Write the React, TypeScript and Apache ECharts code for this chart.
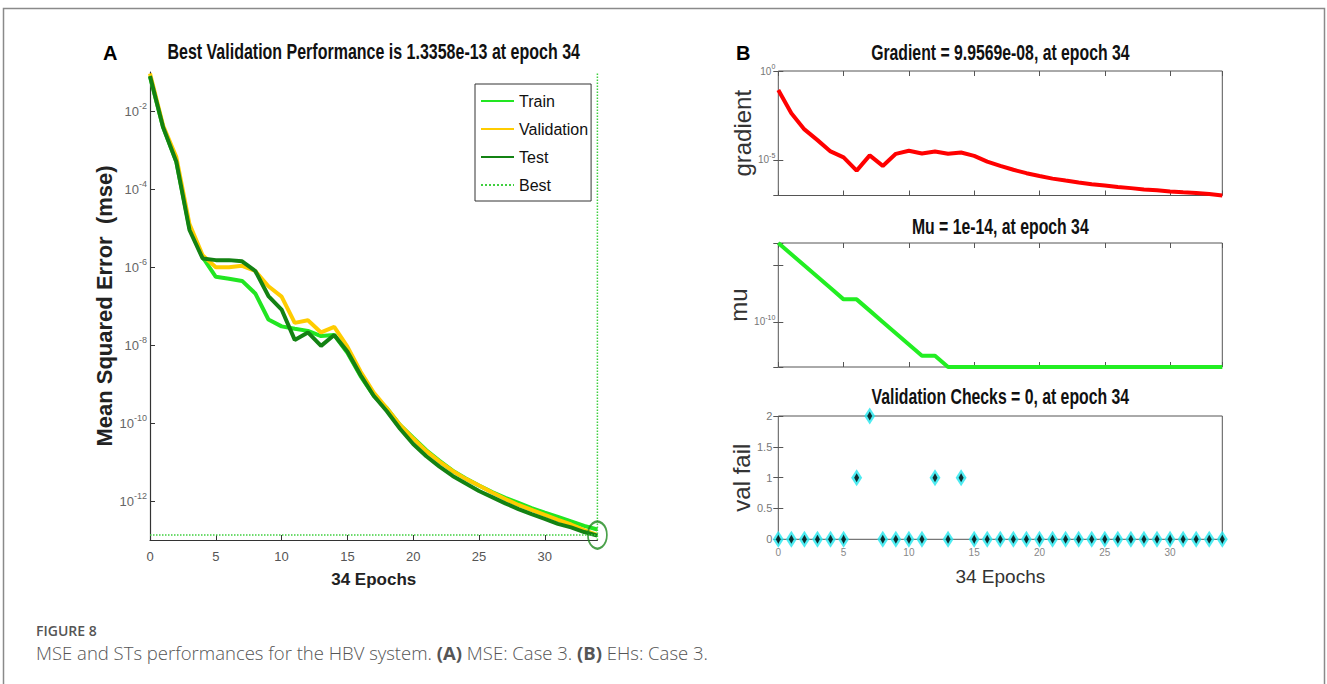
import React, { useEffect, useRef } from 'react';
import * as echarts from 'echarts';

// ---------------- data ----------------
const epochs = [0, 1, 2, 3, 4, 5, 6, 7, 8, 9, 10, 11, 12, 13, 14, 15, 16, 17, 18, 19, 20, 21, 22, 23, 24, 25, 26, 27, 28, 29, 30, 31, 32, 33, 34];

const trainPerf = [7.6e-2, 3.8e-3, 5.0e-4, 1.0e-5, 1.8e-6, 5.6e-7, 5.0e-7, 4.4e-7, 2.1e-7, 4.5e-8, 3.0e-8, 2.6e-8, 2.3e-8, 1.7e-8, 1.8e-8, 6.3e-9, 1.6e-9, 5.0e-10, 2.4e-10, 8.9e-11, 4.2e-11, 2.0e-11, 1.07e-11, 6.0e-12, 3.8e-12, 2.5e-12, 1.7e-12, 1.2e-12, 8.9e-13, 6.6e-13, 5.0e-13, 3.9e-13, 3.0e-13, 2.3e-13, 1.86e-13];
const valPerf = [9.1e-2, 4.2e-3, 6.6e-4, 1.26e-5, 2.0e-6, 9.8e-7, 9.8e-7, 1.07e-6, 7.9e-7, 3.2e-7, 1.74e-7, 3.7e-8, 4.3e-8, 2.1e-8, 2.9e-8, 9.1e-9, 2.1e-9, 6.0e-10, 2.4e-10, 8.9e-11, 4.0e-11, 1.9e-11, 1.02e-11, 5.9e-12, 3.7e-12, 2.5e-12, 1.66e-12, 1.12e-12, 7.9e-13, 5.9e-13, 4.4e-13, 3.3e-13, 2.5e-13, 1.8e-13, 1.3358e-13];
const testPerf = [7.9e-2, 3.8e-3, 5.0e-4, 8.9e-6, 1.66e-6, 1.5e-6, 1.5e-6, 1.4e-6, 7.9e-7, 1.8e-7, 8.1e-8, 1.35e-8, 2.1e-8, 9.5e-9, 1.8e-8, 6.8e-9, 1.7e-9, 5.0e-10, 2.0e-10, 7.1e-11, 2.9e-11, 1.4e-11, 7.6e-12, 4.4e-12, 2.8e-12, 1.8e-12, 1.26e-12, 8.7e-13, 6.2e-13, 4.6e-13, 3.5e-13, 2.6e-13, 2.1e-13, 1.6e-13, 1.29e-13];
const bestPerf = 1.3358e-13;
const bestEpoch = 34;

const gradientVals = [8.5e-2, 4.2e-3, 5.2e-4, 1.3e-4, 3.0e-5, 1.4e-5, 2.5e-6, 1.8e-5, 4.6e-6, 2.2e-5, 3.3e-5, 2.3e-5, 3.0e-5, 2.2e-5, 2.6e-5, 1.7e-5, 8.1e-6, 4.6e-6, 2.8e-6, 1.8e-6, 1.26e-6, 8.9e-7, 6.9e-7, 5.4e-7, 4.3e-7, 3.6e-7, 3.0e-7, 2.6e-7, 2.2e-7, 2.0e-7, 1.7e-7, 1.5e-7, 1.4e-7, 1.2e-7, 9.9569e-8];
const muVals = [1e-3, 1e-4, 1e-5, 1e-6, 1e-7, 1e-8, 1e-8, 1e-9, 1e-10, 1e-11, 1e-12, 1e-13, 1e-13, 1e-14, 1e-14, 1e-14, 1e-14, 1e-14, 1e-14, 1e-14, 1e-14, 1e-14, 1e-14, 1e-14, 1e-14, 1e-14, 1e-14, 1e-14, 1e-14, 1e-14, 1e-14, 1e-14, 1e-14, 1e-14, 1e-14];
const valFailVals = [0, 0, 0, 0, 0, 0, 1, 2, 0, 0, 0, 0, 1, 0, 1, 0, 0, 0, 0, 0, 0, 0, 0, 0, 0, 0, 0, 0, 0, 0, 0, 0, 0, 0, 0];

const mseExponentsShown = [-12, -10, -8, -6, -4, -2];
const gradExponentsShown = [0, -5];
const muExponentsShown = [-10];

const titleMse = 'Best Validation Performance is 1.3358e-13 at epoch 34';
const titleGrad = 'Gradient = 9.9569e-08, at epoch 34';
const titleMu = 'Mu = 1e-14, at epoch 34';
const titleVal = 'Validation Checks = 0, at epoch 34';

// ---------------- styles ----------------
const SANS = "'Liberation Sans', Arial, Helvetica, sans-serif";
const CAPTION = "'Open Sans', 'Noto Sans', sans-serif";

const C_TRAIN = '#22e622';
const C_VAL = '#ffcc00';
const C_TEST = '#138213';
const C_BEST = '#3fcf3f';
const C_AXIS = '#333';
const C_BOX = '#555';

const pairs = (vals: number[]) => epochs.map((e, i) => [e, vals[i]]);
const expOf = (v: number) => Math.round(Math.log10(v));
const powLabel = (shown: number[]) => (v: number) => {
  const e = expOf(v);
  return shown.indexOf(e) >= 0 ? `10{s|${e}}` : '';
};
const supRich = (size: number) => ({
  s: { fontSize: size, verticalAlign: 'top', lineHeight: size + 1, color: '#666', fontFamily: SANS },
});

const G0 = { left: 150, top: 72, width: 447.4, height: 468 };
const RL = 778.3;
const RW = 444;
const G1 = { left: RL, top: 71, width: RW, height: 124.5 };
const G2 = { left: RL, top: 243, width: RW, height: 124 };
const G3 = { left: RL, top: 416, width: RW, height: 123.3 };

const mirrorTick = { show: true, inside: true, length: 5, lineStyle: { color: C_BOX, width: 1 } };

const rightX = (gridIndex: number, position: string, extra: any = {}) => ({
  type: 'value',
  gridIndex,
  position,
  min: 0,
  max: 34,
  interval: 5,
  axisLine: { show: false },
  axisTick: mirrorTick,
  axisLabel: { show: false },
  splitLine: { show: false },
  ...extra,
});

const stretchedTitle = (text: string, cx: number, cy: number, size: number) => ({
  type: 'text',
  silent: true,
  x: cx,
  y: cy,
  scaleY: 1.35,
  style: {
    text,
    fontFamily: SANS,
    fontWeight: 'bold',
    fontSize: size,
    fill: '#111',
    align: 'center',
    verticalAlign: 'middle',
  },
});

function buildOption(): any {
  return {
    animation: false,
    backgroundColor: '#fff',
    title: [
      { text: 'A', left: 103, top: 43, padding: 0, textStyle: { fontFamily: SANS, fontWeight: 'bold', fontSize: 20, color: '#000' } },
      { text: 'B', left: 736, top: 43, padding: 0, textStyle: { fontFamily: SANS, fontWeight: 'bold', fontSize: 20, color: '#000' } },
    ],
    legend: {
      data: ['Train', 'Validation', 'Test', 'Best'],
      orient: 'vertical',
      left: 475,
      top: 84,
      padding: [7, 3, 6, 5],
      itemGap: 8,
      itemWidth: 33,
      itemHeight: 14,
      borderColor: '#333',
      borderWidth: 1,
      backgroundColor: '#fff',
      itemStyle: { opacity: 0 },
      textStyle: { fontFamily: SANS, fontSize: 16, lineHeight: 20, color: '#111' },
    },
    grid: [
      { ...G0 },
      { ...G1, show: true, borderColor: C_BOX, borderWidth: 1, backgroundColor: 'transparent' },
      { ...G2, show: true, borderColor: C_BOX, borderWidth: 1, backgroundColor: 'transparent' },
      { ...G3, show: true, borderColor: C_BOX, borderWidth: 1, backgroundColor: 'transparent' },
    ],
    xAxis: [
      {
        type: 'value',
        gridIndex: 0,
        min: 0,
        max: 34,
        interval: 5,
        axisLine: { show: true, onZero: false, lineStyle: { color: C_AXIS, width: 1.2 } },
        axisTick: { show: true, inside: true, length: 5, lineStyle: { color: C_AXIS } },
        axisLabel: { color: '#555', fontSize: 13, fontFamily: SANS, margin: 10, showMaxLabel: false },
        splitLine: { show: false },
        name: '34 Epochs',
        nameLocation: 'middle',
        nameGap: 31,
        nameTextStyle: { fontFamily: SANS, fontWeight: 'bold', fontSize: 17, color: '#222' },
      },
      rightX(1, 'bottom'),
      rightX(1, 'top'),
      rightX(2, 'bottom'),
      rightX(2, 'top'),
      rightX(3, 'bottom', {
        axisLabel: { show: true, color: '#888', fontSize: 10, fontFamily: SANS, margin: 8, showMaxLabel: false },
        name: '34 Epochs',
        nameLocation: 'middle',
        nameGap: 28,
        nameTextStyle: { fontFamily: SANS, fontSize: 19, color: '#333' },
      }),
      rightX(3, 'top'),
    ],
    yAxis: [
      {
        type: 'log',
        logBase: 100,
        gridIndex: 0,
        min: 1e-13,
        max: 1e-1,
        axisLine: { show: true, onZero: false, lineStyle: { color: C_AXIS, width: 1.2 } },
        axisTick: { show: true, inside: true, length: 5, lineStyle: { color: C_AXIS } },
        axisLabel: {
          formatter: powLabel(mseExponentsShown),
          rich: supRich(9),
          color: '#666',
          fontSize: 13,
          lineHeight: 20,
          fontFamily: SANS,
          margin: 3,
          showMinLabel: false,
          showMaxLabel: false,
        },
        splitLine: { show: false },
        name: 'Mean Squared Error  (mse)',
        nameLocation: 'middle',
        nameGap: 33,
        nameTextStyle: { fontFamily: SANS, fontWeight: 'bold', fontSize: 22, color: '#222' },
      },
      {
        type: 'log',
        logBase: 100000,
        gridIndex: 1,
        min: 1e-7,
        max: 1,
        axisLine: { show: false },
        axisTick: mirrorTick,
        axisLabel: { formatter: powLabel(gradExponentsShown), rich: supRich(7), color: '#777', fontSize: 10, lineHeight: 16, fontFamily: SANS, margin: 3 },
        splitLine: { show: false },
        name: 'gradient',
        nameLocation: 'middle',
        nameGap: 24,
        nameTextStyle: { fontFamily: SANS, fontSize: 24, color: '#333' },
      },
      { type: 'log', logBase: 100000, gridIndex: 1, position: 'right', min: 1e-7, max: 1, axisLine: { show: false }, axisTick: mirrorTick, axisLabel: { show: false }, splitLine: { show: false } },
      {
        type: 'log',
        logBase: 100000,
        gridIndex: 2,
        min: 1e-14,
        max: 1e-3,
        axisLine: { show: false },
        axisTick: mirrorTick,
        axisLabel: { formatter: powLabel(muExponentsShown), rich: supRich(7), color: '#777', fontSize: 10, lineHeight: 16, fontFamily: SANS, margin: 3 },
        splitLine: { show: false },
        name: 'mu',
        nameLocation: 'middle',
        nameGap: 24,
        nameTextStyle: { fontFamily: SANS, fontSize: 24, color: '#333' },
      },
      { type: 'log', logBase: 100000, gridIndex: 2, position: 'right', min: 1e-14, max: 1e-3, axisLine: { show: false }, axisTick: mirrorTick, axisLabel: { show: false }, splitLine: { show: false } },
      {
        type: 'value',
        gridIndex: 3,
        min: 0,
        max: 2,
        interval: 0.5,
        axisLine: { show: false },
        axisTick: mirrorTick,
        axisLabel: { color: '#777', fontSize: 11, fontFamily: SANS, margin: 6 },
        splitLine: { show: false },
        name: 'val fail',
        nameLocation: 'middle',
        nameGap: 17,
        nameTextStyle: { fontFamily: SANS, fontSize: 24, color: '#333' },
      },
      { type: 'value', gridIndex: 3, position: 'right', min: 0, max: 2, interval: 0.5, axisLine: { show: false }, axisTick: mirrorTick, axisLabel: { show: false }, splitLine: { show: false } },
    ],
    series: [
      { type: 'line', name: 'Train', xAxisIndex: 0, yAxisIndex: 0, data: pairs(trainPerf), symbol: 'none', clip: false, lineStyle: { color: C_TRAIN, width: 4 }, itemStyle: { color: C_TRAIN } },
      { type: 'line', name: 'Validation', xAxisIndex: 0, yAxisIndex: 0, data: pairs(valPerf), symbol: 'none', clip: false, lineStyle: { color: C_VAL, width: 4 }, itemStyle: { color: C_VAL } },
      { type: 'line', name: 'Test', xAxisIndex: 0, yAxisIndex: 0, data: pairs(testPerf), symbol: 'none', clip: false, lineStyle: { color: C_TEST, width: 4 }, itemStyle: { color: C_TEST } },
      { type: 'line', name: 'Best', xAxisIndex: 0, yAxisIndex: 0, data: [[0, bestPerf], [bestEpoch, bestPerf]], symbol: 'none', clip: false, lineStyle: { color: C_BEST, width: 1.5, type: 'dotted' }, itemStyle: { color: C_BEST } },
      { type: 'line', name: 'Best', xAxisIndex: 0, yAxisIndex: 0, data: [[bestEpoch, 1e-13], [bestEpoch, 1e-1]], symbol: 'none', clip: false, lineStyle: { color: C_BEST, width: 1.5, type: 'dotted' }, itemStyle: { color: C_BEST } },
      { type: 'scatter', name: 'best point', xAxisIndex: 0, yAxisIndex: 0, data: [[bestEpoch, bestPerf]], symbol: 'circle', symbolSize: [19, 27], clip: false, z: 5, itemStyle: { color: 'rgba(0,0,0,0)', borderColor: '#1d8a1d', borderWidth: 2 } },
      { type: 'line', name: 'gradient', xAxisIndex: 1, yAxisIndex: 1, data: pairs(gradientVals), symbol: 'none', clip: false, lineStyle: { color: '#ff0000', width: 4 }, itemStyle: { color: '#ff0000' } },
      { type: 'line', name: 'mu', xAxisIndex: 3, yAxisIndex: 3, data: pairs(muVals), symbol: 'none', clip: false, lineStyle: { color: '#22ee22', width: 4 }, itemStyle: { color: '#22ee22' } },
      { type: 'scatter', name: 'val fail', xAxisIndex: 5, yAxisIndex: 5, data: pairs(valFailVals), symbol: 'diamond', symbolSize: [11, 17], clip: false, z: 5, itemStyle: { color: '#22e6ee' } },
      { type: 'scatter', name: 'val fail core', xAxisIndex: 5, yAxisIndex: 5, data: pairs(valFailVals), symbol: 'diamond', symbolSize: [5, 9], clip: false, z: 6, itemStyle: { color: '#000' } },
    ],
    graphic: [
      { type: 'rect', silent: true, shape: { x: 3.5, y: 8.5, width: 1321, height: 700 }, style: { fill: 'none', stroke: '#8a8a8a', lineWidth: 1.5 } },
      stretchedTitle(titleMse, 373.7, 52, 16),
      stretchedTitle(titleGrad, 1000.3, 52.5, 15.8),
      stretchedTitle(titleMu, 1000.3, 227, 15.8),
      stretchedTitle(titleVal, 1000.3, 397, 15.8),
      { type: 'text', silent: true, x: 36, y: 630, style: { text: 'FIGURE 8', fontFamily: CAPTION, fontSize: 14, fontWeight: 600, fill: '#555', verticalAlign: 'middle' } },
      {
        type: 'text',
        silent: true,
        x: 36,
        y: 652,
        style: {
          text: 'MSE and STs performances for the HBV system. {b|(A)} MSE: Case 3. {b|(B)} EHs: Case 3.',
          fontFamily: CAPTION,
          fontSize: 18.5,
          fontWeight: 300,
          fill: '#555',
          verticalAlign: 'middle',
          rich: { b: { fontFamily: CAPTION, fontSize: 18.5, fontWeight: 'bold', fill: '#555' } },
        },
      },
    ],
  };
}

export default function App() {
  const ref = useRef<HTMLDivElement>(null);
  useEffect(() => {
    if (!ref.current) return;
    const chart = echarts.init(ref.current, null, { renderer: 'svg' });
    chart.setOption(buildOption());
    return () => chart.dispose();
  }, []);
  return <div ref={ref} style={{ position: 'fixed', left: 0, top: 0, width: 1327, height: 684, background: '#fff' }} />;
}
